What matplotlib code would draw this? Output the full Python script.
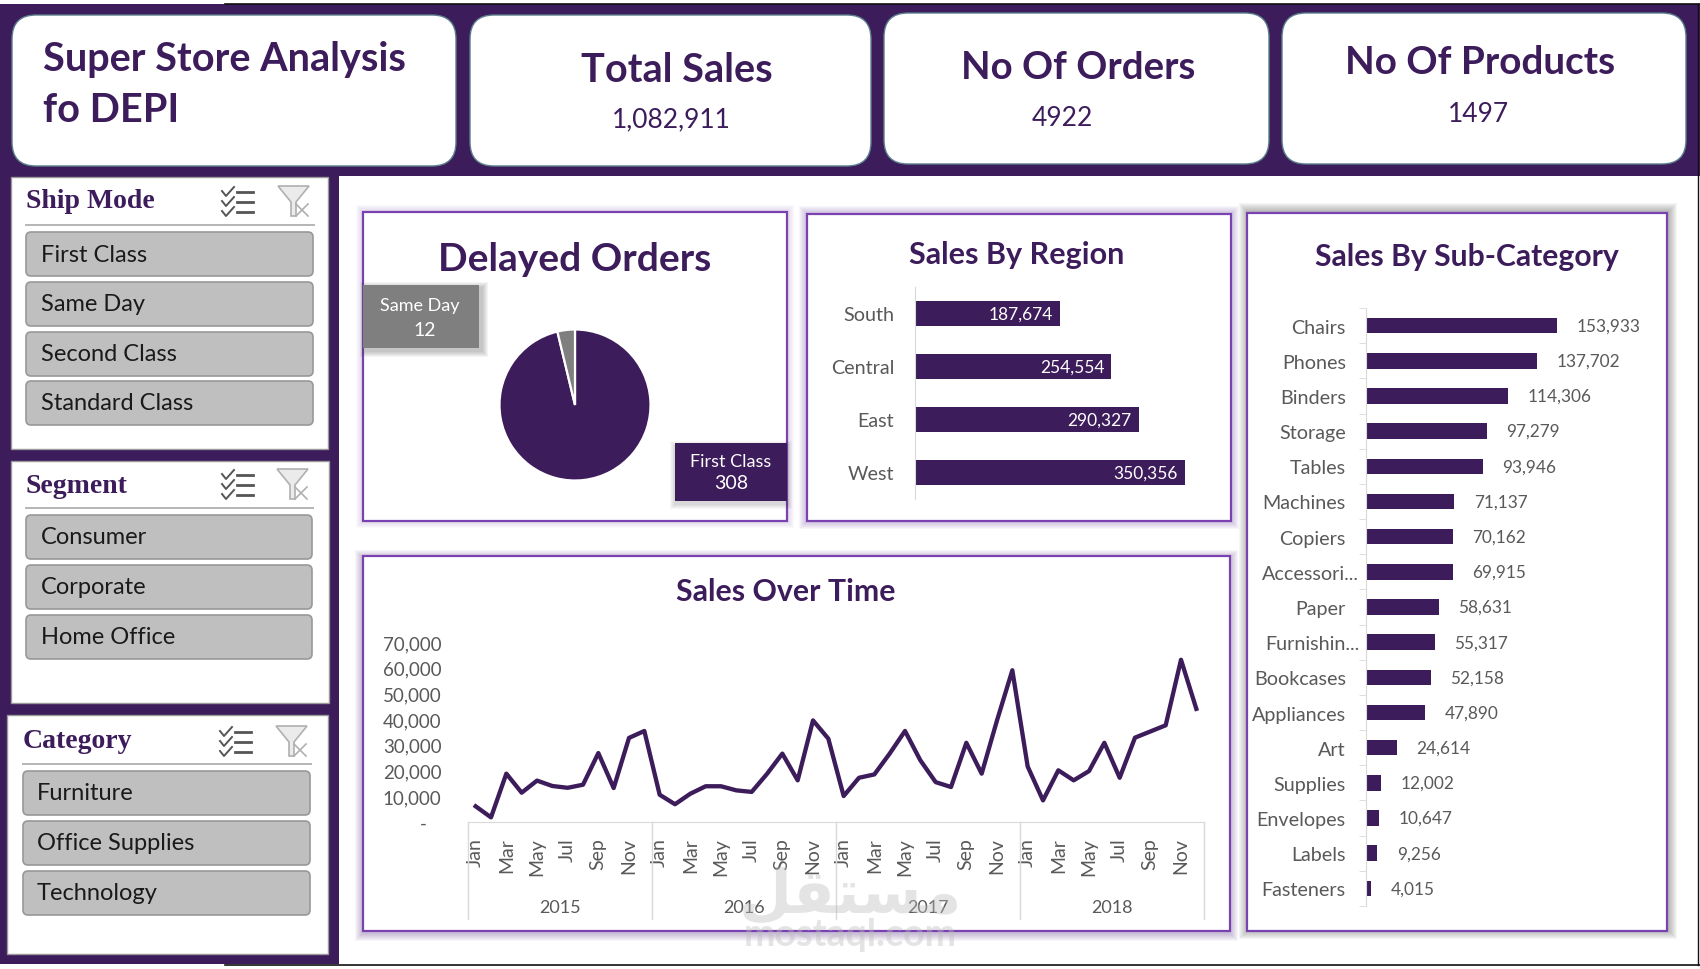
import numpy as np
import matplotlib
matplotlib.use("Agg")
import matplotlib.pyplot as plt
from matplotlib.patches import FancyBboxPatch, Rectangle, Polygon

plt.rcParams['font.family'] = ['Lato', 'DejaVu Sans']

# data
total_sales = "1,082,911"
no_orders = "4922"
no_products = "1497"

ship_modes = ["First Class", "Same Day", "Second Class", "Standard Class"]
segments = ["Consumer", "Corporate", "Home Office"]
categories = ["Furniture", "Office Supplies", "Technology"]

delayed_names = ["First Class", "Same Day"]
delayed_values = [308, 12]

regions = ["South", "Central", "East", "West"]
region_sales = [187674, 254554, 290327, 350356]

sub_cats = ["Chairs", "Phones", "Binders", "Storage", "Tables", "Machines", "Copiers",
            "Accessori...", "Paper", "Furnishin...", "Bookcases", "Appliances", "Art",
            "Supplies", "Envelopes", "Labels", "Fasteners"]
sub_sales = [153933, 137702, 114306, 97279, 93946, 71137, 70162, 69915, 58631, 55317,
             52158, 47890, 24614, 12002, 10647, 9256, 4015]

years = ["2015", "2016", "2017", "2018"]
months = ["Jan", "Mar", "May", "Jul", "Sep", "Nov"]
monthly_sales = [6100, 1800, 18800, 11400, 16100, 14000, 13300, 14500, 26800, 13200, 32700, 35400,
                 10600, 6900, 11000, 13900, 13900, 12300, 11700, 18700, 26600, 16200, 39500, 32400,
                 10100, 17200, 18500, 26600, 35400, 24000, 15500, 13600, 30800, 18800, 39500, 59000,
                 21600, 8400, 20100, 16200, 19800, 30800, 17200, 32800, 35200, 37600, 63100, 44000]
y_ticks = [0, 10000, 20000, 30000, 40000, 50000, 60000, 70000]

PURPLE = "#3C1C5A"
BORDER = "#7A42B0"
AXIS_GREY = "#D9D9D9"
TEXT_GREY = "#595959"

W, H = 1700, 970
fig = plt.figure(figsize=(W / 100, H / 100), dpi=100, facecolor="white")

# everything on this layer sits 2 px lower than the numbers say, Lato centres high
bg = fig.add_axes([0, 0, 1, 1])
bg.set_xlim(0, W)
bg.set_ylim(H - 2, -2)
bg.axis("off")


def rect(x0, y0, x1, y1, **kw):
    r = Rectangle((x0, y0), x1 - x0, y1 - y0, **kw)
    bg.add_patch(r)
    return r


def rounded(x0, y0, x1, y1, radius, **kw):
    r = FancyBboxPatch((x0, y0), x1 - x0, y1 - y0,
                       boxstyle=f"round,pad=0,rounding_size={radius}", **kw)
    bg.add_patch(r)
    return r


def shadow(x0, y0, x1, y1, color, spread, alpha, dx=0, dy=0):
    for s in range(spread, 0, -1):
        rect(x0 - s + dx, y0 - s + dy, x1 + s + dx, y1 + s + dy,
             facecolor=color, edgecolor="none", alpha=alpha)


def chart_axes(x0, y0, x1, y1):
    ax = fig.add_axes([x0 / W, 1 - y1 / H, (x1 - x0) / W, (y1 - y0) / H])
    ax.patch.set_alpha(0)
    return ax


def check_icon(x, y):
    for row in range(3):
        yy = y + 3 + row * 10
        bg.plot([x, x + 4, x + 12], [yy + 2, yy + 7, yy - 2], color="#555555", lw=1.4)
        bg.plot([x + 15, x + 31], [yy + 3, yy + 3], color="#555555", lw=2)


def filter_icon(x, y):
    bg.add_patch(Polygon([(x, y), (x + 31, y), (x + 18, y + 16), (x + 18, y + 30), (x + 13, y + 30), (x + 13, y + 16)],
                         closed=True, facecolor="#EBEBEB", edgecolor="#B0B0B0", lw=1.2))
    bg.plot([x + 18, x + 30], [y + 18, y + 30], color="#B0B0B0", lw=1.2)
    bg.plot([x + 18, x + 30], [y + 30, y + 18], color="#B0B0B0", lw=1.2)


def slicer(panel, title, title_y, line_y, btn_x0, btn_x1, btn_tops, text_x, items, icon_y, check_x, filter_x):
    rect(*panel, facecolor="white", edgecolor="#9A9A9A", lw=1)
    bg.text(btn_x0, title_y, title, family="Liberation Serif", weight="bold", fontsize=20,
            color=PURPLE, va="center")
    bg.plot([btn_x0, btn_x1 + 1], [line_y, line_y], color="#B5B5B5", lw=1.4)
    check_icon(check_x, icon_y)
    filter_icon(filter_x, icon_y)
    for top, item in zip(btn_tops, items):
        rounded(btn_x0, top, btn_x1, top + 44, 5, facecolor="#BFBFBF", edgecolor="#989898", lw=1.2)
        bg.text(text_x, top + 22, item, fontsize=17, color="#1A1A1A", va="center")


# page background
rect(0, 3, W, 175, facecolor=PURPLE, edgecolor="none")
rect(0, 3, 339, 963, facecolor=PURPLE, edgecolor="none")
bg.plot([225, W], [3, 3], color="#111111", lw=1.2)
bg.plot([225, W], [964, 964], color="#111111", lw=1.2)
bg.plot([1698, 1698], [3, 964], color="#111111", lw=1)

# header cards
for x0, y0, x1, y1 in [(12, 14, 456, 165), (470, 14, 871, 165), (884, 12, 1269, 163), (1282, 12, 1686, 163)]:
    rounded(x0, y0, x1, y1, 24, facecolor="white", edgecolor="#5B7F8C", lw=1)

bg.text(43, 57, "Super Store Analysis", fontsize=28.5, weight="bold", color=PURPLE, va="center")
bg.text(43, 109, "fo DEPI", fontsize=28.5, weight="bold", color=PURPLE, va="center")
bg.text(677, 68, "Total Sales", fontsize=28.5, weight="bold", color=PURPLE, ha="center", va="center")
bg.text(671, 118, total_sales, fontsize=19, color=PURPLE, ha="center", va="center")
bg.text(1078, 66, "No Of Orders", fontsize=27.6, weight="bold", color=PURPLE, ha="center", va="center")
bg.text(1062, 117, no_orders, fontsize=19, color=PURPLE, ha="center", va="center")
bg.text(1480, 61, "No Of Products", fontsize=27.8, weight="bold", color=PURPLE, ha="center", va="center")
bg.text(1478, 113, no_products, fontsize=19, color=PURPLE, ha="center", va="center")

# slicers
slicer((11, 176, 328, 448), "Ship Mode", 200, 224, 26, 313, [231, 281, 331, 380], 41, ship_modes, 185, 222, 278)
slicer((11, 460, 329, 702), "Segment", 485, 507, 26, 312, [514, 564, 614], 41, segments, 468, 222, 277)
slicer((7, 714, 328, 953), "Category", 740, 763, 23, 310, [770, 820, 870], 37, categories, 725, 220, 276)

# chart panels
shadow(363, 211, 787, 520, "#A88CCB", 7, 0.05)
shadow(807, 213, 1231, 520, "#8A68B4", 8, 0.06)
shadow(1247, 212, 1667, 930, "#555555", 9, 0.055, dx=1, dy=-1)
shadow(363, 555, 1230, 930, "#6A4A90", 8, 0.05, dy=2)
for x0, y0, x1, y1 in [(363, 211, 787, 520), (807, 213, 1231, 520), (1247, 212, 1667, 930), (363, 555, 1230, 930)]:
    rect(x0, y0, x1, y1, facecolor="white", edgecolor=BORDER, lw=1.6)

bg.text(575, 258, "Delayed Orders", fontsize=28, weight="bold", color=PURPLE, ha="center", va="center")
bg.text(1017, 253, "Sales By Region", fontsize=22, weight="bold", color=PURPLE, ha="center", va="center")
bg.text(1467, 255, "Sales By Sub-Category", fontsize=21.7, weight="bold", color=PURPLE, ha="center", va="center")
bg.text(786, 590, "Sales Over Time", fontsize=21.8, weight="bold", color=PURPLE, ha="center", va="center")

# pie
ax = chart_axes(575 - 79.3, 406 - 79.3, 575 + 79.3, 406 + 79.3)
ax.pie(delayed_values, colors=[PURPLE, "#7F7F7F"], startangle=90, counterclock=False,
       wedgeprops={"edgecolor": "white", "linewidth": 1.6})
ax.set_xlim(-1.05, 1.05)
ax.set_ylim(-1.05, 1.05)

shadow(363, 284, 479, 347, "#333333", 6, 0.05, dx=3, dy=3)
rect(363, 284, 479, 347, facecolor="#7F7F7F", edgecolor="none")
bg.text(420, 304, delayed_names[1], fontsize=13, color="white", ha="center", va="center")
bg.text(425, 329, str(delayed_values[1]), fontsize=14, color="white", ha="center", va="center")
shadow(675, 442, 787, 500, "#333333", 5, 0.04, dx=0, dy=3)
rect(675, 442, 787, 500, facecolor=PURPLE, edgecolor="none")
bg.text(731, 460, delayed_names[0], fontsize=13, color="white", ha="center", va="center")
bg.text(731, 482, str(delayed_values[0]), fontsize=14, color="white", ha="center", va="center")

# sales by region
ax = chart_axes(915, 288, 1185, 500)
ax.barh(regions, region_sales, height=0.47, color=PURPLE)
ax.set_xlim(0, max(region_sales))
ax.set_ylim(3.5, -0.5)
ax.set_xticks([])
for name in ["top", "right", "bottom"]:
    ax.spines[name].set_visible(False)
ax.spines["left"].set_color(AXIS_GREY)
ax.tick_params(axis="y", length=0, pad=15, labelsize=14.2, labelcolor=TEXT_GREY)
for i, v in enumerate(region_sales):
    ax.annotate(f"{v:,}", (v, i), xytext=(-5, 0), textcoords="offset points", ha="right", va="center",
                color="white", fontsize=12.5)

# sales by sub-category
ax = chart_axes(1366, 309, 1557, 907)
ax.barh(range(len(sub_cats)), sub_sales, height=0.44, color=PURPLE)
ax.set_xlim(0, max(sub_sales))
ax.set_ylim(len(sub_cats) - 0.5, -0.5)
ax.set_xticks([])
ax.set_yticks(range(len(sub_cats)), sub_cats)
ax.set_yticks(np.arange(len(sub_cats) + 1) - 0.5, minor=True)
for name in ["top", "right", "bottom"]:
    ax.spines[name].set_visible(False)
ax.spines["left"].set_color(AXIS_GREY)
ax.tick_params(axis="y", which="major", length=0, pad=14.5, labelsize=14.2, labelcolor=TEXT_GREY)
ax.tick_params(axis="y", which="minor", length=5, color=AXIS_GREY)
for i, name in enumerate(sub_cats):
    if name.endswith("..."):
        ax.yaxis.get_major_ticks()[i].set_pad(5)
for i, v in enumerate(sub_sales):
    ax.annotate(f"{v:,}", (v, i), xytext=(14, 0), textcoords="offset points", ha="left", va="center",
                color=TEXT_GREY, fontsize=12.4)

# sales over time
ax = chart_axes(468, 643, 1204, 823)
ax.plot(range(len(monthly_sales)), monthly_sales, color=PURPLE, lw=3.1, solid_joinstyle="round", clip_on=False)
ax.set_xlim(-0.5, 47.5)
ax.set_ylim(0, 70000)
ax.set_yticks(y_ticks, ["-   "] + [f"{v:,}" for v in y_ticks[1:]])
ax.set_xticks(range(0, 48, 2), months * len(years), rotation=90)
for name in ["top", "right", "left"]:
    ax.spines[name].set_visible(False)
ax.spines["bottom"].set_color(AXIS_GREY)
ax.tick_params(axis="y", length=0, pad=19, labelsize=13.5, labelcolor=TEXT_GREY)
ax.tick_params(axis="x", length=0, pad=11, labelsize=14, labelcolor=TEXT_GREY)
tr = ax.get_xaxis_transform()
for x in np.arange(0, 49, 12) - 0.5:
    ax.plot([x, x], [0, -0.54], transform=tr, color=AXIS_GREY, lw=1, clip_on=False)
for i, year in enumerate(years):
    ax.text(5.5 + 12 * i, -0.47, year, transform=tr, ha="center", va="center", fontsize=13, color=TEXT_GREY)

# watermark
fig.text(850 / W, 1 - 896 / H, "\ufede\ufed8\ufe98\ufeb4\ufee3", family="DejaVu Sans", weight="bold", fontsize=44,
         color="#BDBDBD", alpha=0.4, ha="center", va="center", zorder=10)
fig.text(850 / W, 1 - 935 / H, "mostaql.com", weight="bold", fontsize=27, color="#BDBDBD", alpha=0.4,
         ha="center", va="center", zorder=10)

fig.savefig("out.png", dpi=100)
